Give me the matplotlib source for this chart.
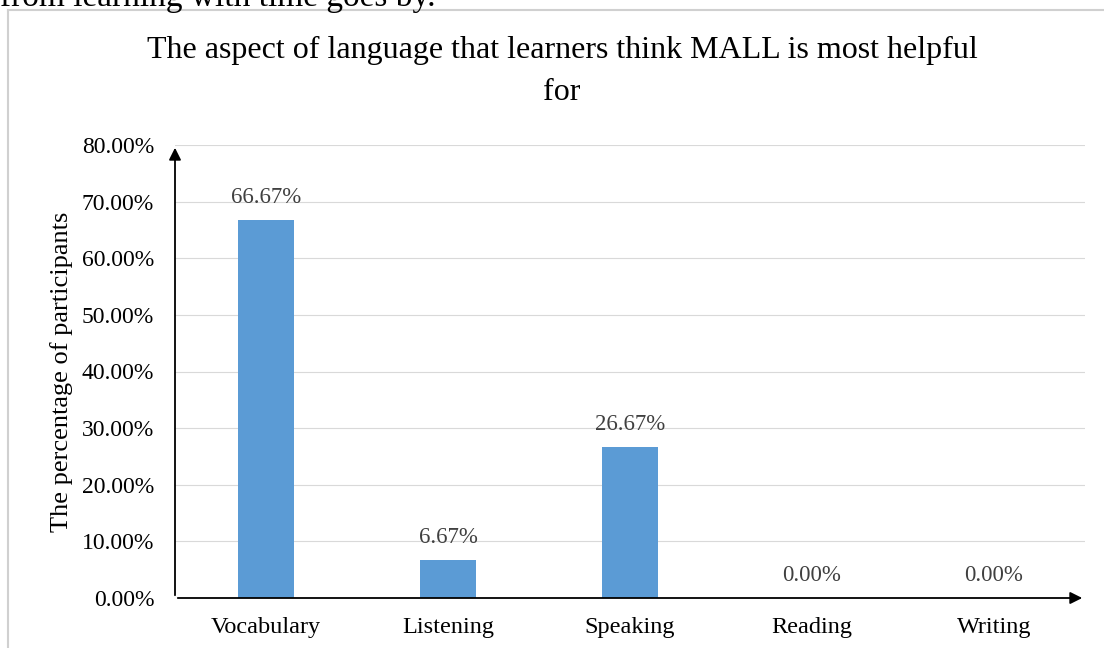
import matplotlib.pyplot as plt
from matplotlib.lines import Line2D

categories = ["Vocabulary", "Listening", "Speaking", "Reading", "Writing"]
values = [66.67, 6.67, 26.67, 0.0, 0.0]
yticks = [0, 10, 20, 30, 40, 50, 60, 70, 80]

plt.rcParams['font.family'] = ['Liberation Serif', 'DejaVu Serif']

W, H = 1104, 648
fig = plt.figure(figsize=(W / 100, H / 100), dpi=100)
ax = fig.add_axes([175 / W, 1 - 598 / H, (1085 - 175) / W, (598 - 145) / H])

x = range(len(categories))
ax.bar(x, values, width=0.31, color='#5B9BD5', zorder=3)
for i, v in enumerate(values):
    ax.text(i, v + 2.2, f"{v:.2f}%", ha='center', va='bottom', fontsize=16.5, color='#404040')

ax.set_xlim(-0.5, 4.5)
ax.set_ylim(0, 80)
ax.set_yticks(yticks)
ax.set_yticklabels([f"{t:.2f}%" for t in yticks], fontsize=17)
ax.set_xticks(list(x))
ax.set_xticklabels(categories, fontsize=17.5)
ax.tick_params(axis='x', length=0, pad=14)
ax.tick_params(axis='y', length=0, pad=15)
ax.grid(axis='y', color='#D9D9D9', linewidth=0.8, zorder=0)
for s in ax.spines.values():
    s.set_visible(False)

# axes drawn as arrows
ax.annotate('', xy=(0, 1.0), xytext=(0, 0), xycoords='axes fraction',
            arrowprops=dict(arrowstyle='-|>', color='black', lw=1.3, mutation_scale=18))
ax.annotate('', xy=(1.0, 0), xytext=(0, 0), xycoords='axes fraction',
            arrowprops=dict(arrowstyle='-|>', color='black', lw=1.3, mutation_scale=18))

ax.set_ylabel("The percentage of participants", fontsize=19, labelpad=6)

fig.text(562 / W, 1 - 50 / H, "The aspect of language that learners think MALL is most helpful",
         ha='center', va='center', fontsize=23)
fig.text(562 / W, 1 - 93 / H, "for", ha='center', va='center', fontsize=23)

# clipped line of body text above the chart frame
fig.text(0, 1 - 6 / H, "from learning with time goes by.", ha='left', va='baseline', fontsize=24)

# chart frame
fig.add_artist(Line2D([8 / W, 8 / W], [0, 1 - 10 / H], color='#D0D0D0', lw=1.5))
fig.add_artist(Line2D([8 / W, 1], [1 - 10 / H, 1 - 10 / H], color='#D0D0D0', lw=1.5))

fig.savefig("out.png", dpi=100)
